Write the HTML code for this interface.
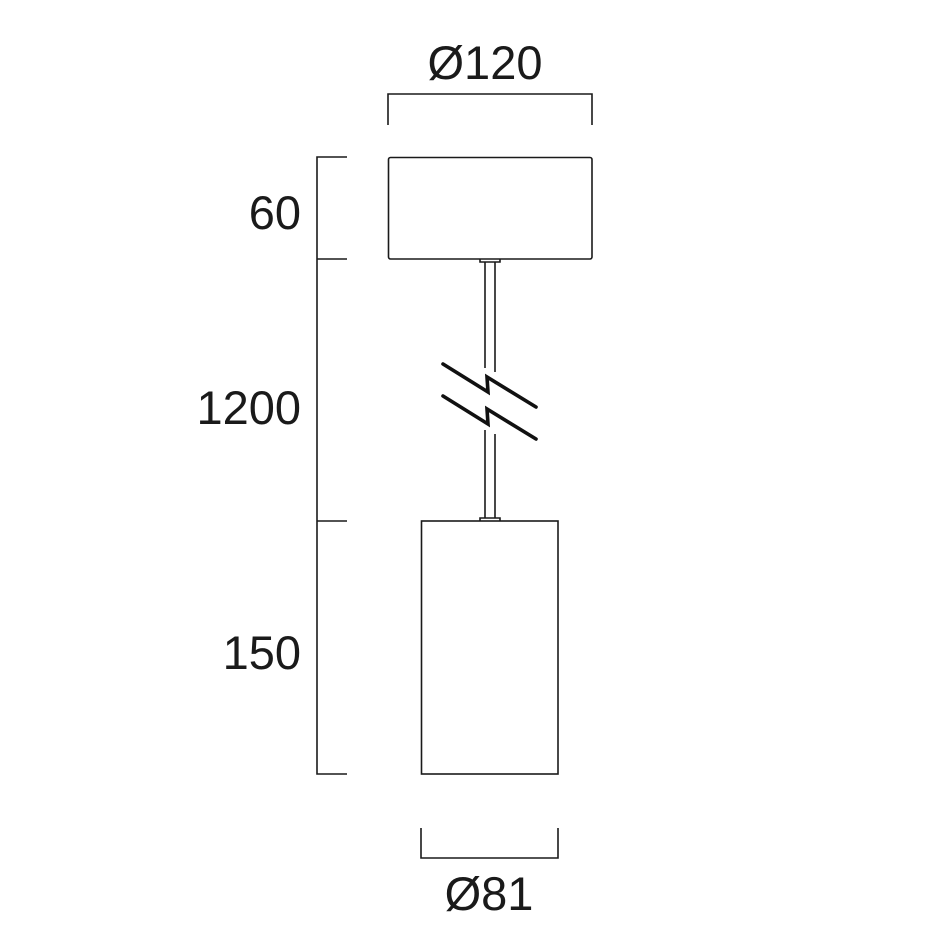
<!DOCTYPE html>
<html><head><style>body{margin:0;background:#fff}svg{display:block}text{font-family:"Liberation Sans",sans-serif;font-size:47px;fill:#1a1a1a}</style></head>
<body>
<svg width="946" height="946" viewBox="0 0 946 946">
<g fill="none" stroke="#1a1a1a" stroke-width="1.6">
<path d="M388,125 V94 H592 V125"/>
<rect x="388.5" y="157.5" width="203.5" height="101.5" rx="2"/>
<path d="M347,157 H317 V774 H347 M317,259 H347 M317,521 H347"/>
<rect x="421.5" y="521" width="136.5" height="253"/>
<path d="M421,828 V858 H558 V828"/>
<path d="M480,259 V262 H500 V259 M480,521 V518 H500 V521"/>
<path d="M485,262 V368 M495,262 V372 M485,430 V518 M495,434 V518"/>
</g>
<g fill="none" stroke="#111" stroke-width="3.6" stroke-linecap="round" stroke-linejoin="miter">
<path d="M443,364 L488,392 L487,377 L536,407"/>
<path d="M443,396 L488,424 L487,409 L536,439"/>
</g>
<text x="485" y="79" text-anchor="middle">Ø120</text>
<text x="301" y="229" text-anchor="end">60</text>
<text x="301" y="424" text-anchor="end">1200</text>
<text x="301" y="669" text-anchor="end">150</text>
<text x="489" y="910" text-anchor="middle">Ø81</text>
</svg>
</body></html>
